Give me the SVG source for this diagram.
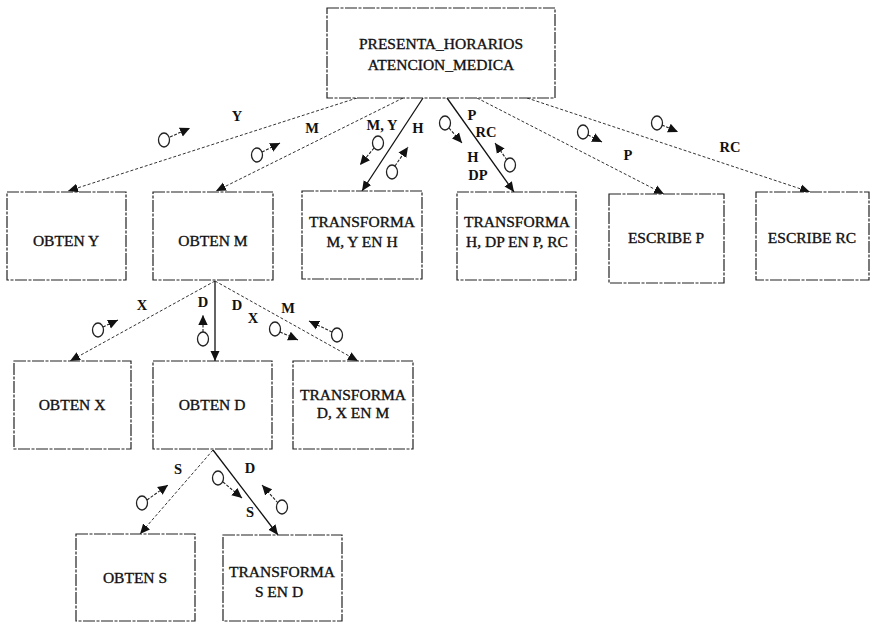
<svg xmlns="http://www.w3.org/2000/svg" width="871" height="623" viewBox="0 0 871 623">
  <defs>
    <marker id="head" markerUnits="userSpaceOnUse" markerWidth="11" markerHeight="11" refX="10" refY="5.5" orient="auto">
      <path d="M0,1 L10,5.5 L0,10 z" fill="#111"/>
    </marker>
    <marker id="tip" markerUnits="userSpaceOnUse" markerWidth="11" markerHeight="11" refX="10" refY="5.5" orient="auto">
      <path d="M0,0.8 L10,5.5 L0,10.2 z" fill="#111"/>
    </marker>
  </defs>
  <style>
    .box { fill: #fff; stroke: #222; stroke-width: 1.2; stroke-dasharray: 12 1.5 3 1.5; }
    .name { font-family: "Liberation Serif", "Times New Roman", serif; font-size: 15.5px; fill: #111; stroke: #111; stroke-width: 0.35; text-anchor: middle; }
    .lbl { font-family: "Liberation Serif", "Times New Roman", serif; font-size: 14.5px; font-weight: bold; fill: #111; text-anchor: middle; }
    .dash { fill: none; stroke: #333; stroke-width: 1; stroke-dasharray: 3 2; marker-end: url(#head); }
    .solid { fill: none; stroke: #111; stroke-width: 1.3; marker-end: url(#head); }
    .flow { fill: none; stroke: #222; stroke-width: 1.1; stroke-dasharray: 3 1.5; marker-end: url(#tip); }
    .coupon { fill: #fff; stroke: #222; stroke-width: 1.3; }
  </style>
  <rect width="871" height="623" fill="#fff"/>

  <!-- connectors between modules -->
  <g id="connectors">
    <path class="dash" d="M357,98 L68,191"/>
    <path class="dash" d="M403,98 L216,191"/>
    <path class="solid" d="M423,98 L362,191"/>
    <path class="solid" d="M447,98 L514,192"/>
    <path class="dash" d="M477,98 L664,194"/>
    <path class="dash" d="M527,98 L810,192"/>
    <path class="dash" d="M215,281 L70,361"/>
    <path class="solid" d="M215,281 L215,361"/>
    <path class="dash" d="M215,281 L358,361"/>
    <path class="dash" d="M213,450 L140,534"/>
    <path class="solid" d="M213,450 L278,535"/>
  </g>

  <!-- data couples: small circle with a short flow arrow -->
  <g id="couples">
    <ellipse class="coupon" cx="164" cy="140" rx="5.5" ry="7"/>
    <path class="flow" d="M170,137 L190,128"/>
    <ellipse class="coupon" cx="257" cy="155" rx="5.5" ry="7"/>
    <path class="flow" d="M262,152 L280,143"/>
    <ellipse class="coupon" cx="378" cy="143" rx="5.5" ry="7"/>
    <path class="flow" d="M374,148 L360,165"/>
    <ellipse class="coupon" cx="392" cy="172" rx="5.5" ry="7"/>
    <path class="flow" d="M395,166 L408,147"/>
    <ellipse class="coupon" cx="445" cy="123" rx="5.5" ry="7"/>
    <path class="flow" d="M449,128 L462,143"/>
    <ellipse class="coupon" cx="510" cy="165" rx="5.5" ry="7"/>
    <path class="flow" d="M507,160 L495,143"/>
    <ellipse class="coupon" cx="583" cy="132" rx="5.5" ry="7"/>
    <path class="flow" d="M588,135 L602,142"/>
    <ellipse class="coupon" cx="657" cy="123" rx="5.5" ry="7"/>
    <path class="flow" d="M662,125 L678,132"/>
    <ellipse class="coupon" cx="98" cy="330" rx="5.5" ry="7"/>
    <path class="flow" d="M103,327 L118,320"/>
    <ellipse class="coupon" cx="203" cy="339" rx="5.5" ry="7"/>
    <path class="flow" d="M203,332 L203,315"/>
    <ellipse class="coupon" cx="275" cy="329" rx="5.5" ry="7"/>
    <path class="flow" d="M280,332 L298,340"/>
    <ellipse class="coupon" cx="337" cy="335" rx="5.5" ry="7"/>
    <path class="flow" d="M332,332 L309,321"/>
    <ellipse class="coupon" cx="142" cy="503" rx="5.5" ry="7"/>
    <path class="flow" d="M147,500 L168,485"/>
    <ellipse class="coupon" cx="218" cy="478" rx="5.5" ry="7"/>
    <path class="flow" d="M223,482 L242,498"/>
    <ellipse class="coupon" cx="282" cy="507" rx="5.5" ry="7"/>
    <path class="flow" d="M278,503 L262,485"/>
  </g>

  <!-- couple labels -->
  <g id="labels">
    <text class="lbl" x="237" y="121">Y</text>
    <text class="lbl" x="312" y="133">M</text>
    <text class="lbl" x="382" y="130">M, Y</text>
    <text class="lbl" x="418" y="133">H</text>
    <text class="lbl" x="472" y="120">P</text>
    <text class="lbl" x="486" y="137">RC</text>
    <text class="lbl" x="473" y="162">H</text>
    <text class="lbl" x="478" y="180">DP</text>
    <text class="lbl" x="628" y="160">P</text>
    <text class="lbl" x="730" y="152">RC</text>
    <text class="lbl" x="142" y="310">X</text>
    <text class="lbl" x="203" y="307">D</text>
    <text class="lbl" x="237" y="310">D</text>
    <text class="lbl" x="253" y="323">X</text>
    <text class="lbl" x="288" y="313">M</text>
    <text class="lbl" x="178" y="474">S</text>
    <text class="lbl" x="250" y="473">D</text>
    <text class="lbl" x="250" y="517">S</text>
  </g>

  <g id="presenta_horarios">
    <rect class="box" x="327" y="8" width="228" height="90"/>
    <text class="name" x="441" y="49">PRESENTA_HORARIOS</text>
    <text class="name" x="441" y="70">ATENCION_MEDICA</text>
  </g>
  <g id="obten_y">
    <rect class="box" x="7" y="192" width="119" height="88"/>
    <text class="name" x="66" y="246">OBTEN Y</text>
  </g>
  <g id="obten_m">
    <rect class="box" x="153" y="192" width="120" height="88"/>
    <text class="name" x="213" y="246">OBTEN M</text>
  </g>
  <g id="transforma_myh">
    <rect class="box" x="302" y="191" width="120" height="88"/>
    <text class="name" x="362" y="227">TRANSFORMA</text>
    <text class="name" x="362" y="247">M, Y EN H</text>
  </g>
  <g id="transforma_hdp">
    <rect class="box" x="457" y="192" width="119" height="88"/>
    <text class="name" x="517" y="227">TRANSFORMA</text>
    <text class="name" x="517" y="247">H, DP EN P, RC</text>
  </g>
  <g id="escribe_p">
    <rect class="box" x="609" y="194" width="115" height="89"/>
    <text class="name" x="666" y="243">ESCRIBE P</text>
  </g>
  <g id="escribe_rc">
    <rect class="box" x="756" y="192" width="113" height="88"/>
    <text class="name" x="812" y="243">ESCRIBE RC</text>
  </g>
  <g id="obten_x">
    <rect class="box" x="14" y="361" width="117" height="88"/>
    <text class="name" x="72" y="410">OBTEN X</text>
  </g>
  <g id="obten_d">
    <rect class="box" x="153" y="361" width="119" height="88"/>
    <text class="name" x="212" y="410">OBTEN D</text>
  </g>
  <g id="transforma_dxm">
    <rect class="box" x="293" y="361" width="120" height="88"/>
    <text class="name" x="353" y="400">TRANSFORMA</text>
    <text class="name" x="353" y="418">D, X EN M</text>
  </g>
  <g id="obten_s">
    <rect class="box" x="76" y="534" width="119" height="87"/>
    <text class="name" x="135" y="583">OBTEN S</text>
  </g>
  <g id="transforma_sd">
    <rect class="box" x="223" y="535" width="119" height="86"/>
    <text class="name" x="282" y="577">TRANSFORMA</text>
    <text class="name" x="279" y="597">S EN D</text>
  </g>
</svg>
